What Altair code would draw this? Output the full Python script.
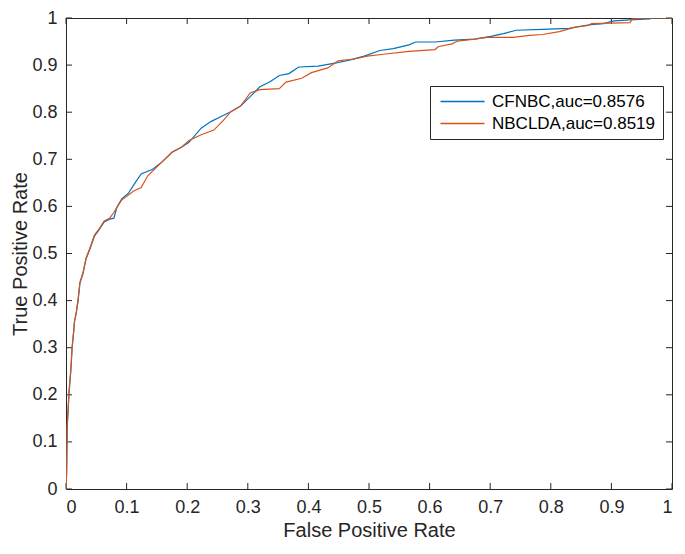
import altair as alt
import pandas as pd

series_names = ["CFNBC,auc=0.8576", "NBCLDA,auc=0.8519"]
series_colors = ["#0072BD", "#D95319"]

cfnbc_fpr = [0, 0.001, 0.002, 0.005, 0.008, 0.010, 0.013, 0.014, 0.017, 0.020, 0.023, 0.028,
             0.033, 0.039, 0.047, 0.055, 0.063, 0.072, 0.079, 0.084, 0.092, 0.103, 0.111, 0.124,
             0.143, 0.159, 0.175, 0.191, 0.203, 0.223, 0.239, 0.256, 0.272, 0.288, 0.304, 0.320,
             0.336, 0.352, 0.368, 0.384, 0.416, 0.444, 0.469, 0.492, 0.518, 0.540, 0.566, 0.577,
             0.609, 0.641, 0.674, 0.701, 0.722, 0.743, 0.786, 0.830, 0.846, 0.866, 0.887, 0.904,
             0.931, 0.963, 0.968, 1.0]
cfnbc_tpr = [0, 0.035, 0.130, 0.203, 0.252, 0.299, 0.339, 0.356, 0.374, 0.400, 0.437, 0.457,
             0.488, 0.508, 0.537, 0.551, 0.567, 0.573, 0.575, 0.598, 0.616, 0.628, 0.644, 0.669,
             0.679, 0.695, 0.715, 0.726, 0.736, 0.766, 0.780, 0.791, 0.801, 0.813, 0.833, 0.854,
             0.864, 0.878, 0.882, 0.896, 0.898, 0.904, 0.911, 0.919, 0.931, 0.935, 0.943, 0.949,
             0.949, 0.953, 0.955, 0.961, 0.967, 0.974, 0.976, 0.978, 0.982, 0.986, 0.988, 0.994,
             0.996, 0.998, 1.0, 1.0]

nbclda_fpr = [0, 0.001, 0.002, 0.005, 0.008, 0.010, 0.013, 0.014, 0.017, 0.020, 0.023, 0.028,
              0.033, 0.039, 0.047, 0.055, 0.063, 0.072, 0.079, 0.084, 0.092, 0.103, 0.111, 0.124,
              0.135, 0.159, 0.175, 0.191, 0.203, 0.223, 0.244, 0.260, 0.272, 0.288, 0.304, 0.320,
              0.352, 0.363, 0.389, 0.405, 0.432, 0.449, 0.476, 0.497, 0.524, 0.566, 0.609, 0.614,
              0.637, 0.646, 0.674, 0.695, 0.738, 0.765, 0.786, 0.814, 0.839, 0.862, 0.867, 0.931,
              0.934, 0.963, 1.0]
nbclda_tpr = [0, 0.035, 0.136, 0.207, 0.254, 0.299, 0.339, 0.356, 0.376, 0.404, 0.439, 0.459,
              0.490, 0.510, 0.539, 0.553, 0.569, 0.575, 0.587, 0.598, 0.614, 0.624, 0.632, 0.640,
              0.665, 0.695, 0.715, 0.726, 0.740, 0.752, 0.762, 0.783, 0.801, 0.813, 0.841, 0.848,
              0.850, 0.864, 0.872, 0.884, 0.894, 0.909, 0.913, 0.919, 0.923, 0.929, 0.933, 0.939,
              0.945, 0.951, 0.955, 0.959, 0.959, 0.963, 0.965, 0.971, 0.980, 0.984, 0.988, 0.990,
              0.998, 1.0, 1.0]

tick_values = [0, 0.1, 0.2, 0.3, 0.4, 0.5, 0.6, 0.7, 0.8, 0.9, 1]

W, H = 606, 471
TICK = 6
INK = "#262626"
FONT = "Liberation Sans"
X_TITLE = "False Positive Rate"
Y_TITLE = "True Positive Rate"

rows = []
for name, xs, ys in [(series_names[0], cfnbc_fpr, cfnbc_tpr), (series_names[1], nbclda_fpr, nbclda_tpr)]:
    for i, (a, b) in enumerate(zip(xs, ys)):
        rows.append({"series": name, "fpr": a, "tpr": b, "idx": i})
df = pd.DataFrame(rows)
tick_df = pd.DataFrame({"fpr": tick_values, "tpr": tick_values})

xs_ = alt.Scale(domain=[0, 1], nice=False, zero=False)
ys_ = alt.Scale(domain=[0, 1], nice=False, zero=False)
x_axis = alt.Axis(values=tick_values, format="~g", labelPadding=9, titlePadding=4)
y_axis = alt.Axis(values=tick_values, format="~g", labelPadding=9, titlePadding=1)

X = lambda: alt.X("fpr:Q", scale=xs_, title=X_TITLE, axis=x_axis)
Y = lambda: alt.Y("tpr:Q", scale=ys_, title=Y_TITLE, axis=y_axis)

lines = alt.Chart(df).mark_line(strokeWidth=1.2, clip=True).encode(
    x=X(),
    y=Y(),
    color=alt.Color("series:N", sort=series_names,
                    scale=alt.Scale(domain=series_names, range=series_colors),
                    legend=alt.Legend(orient="none", legendX=364, legendY=68, title=None,
                                      symbolType="M-1,0H7.8", symbolSize=100, symbolStrokeWidth=1.5,
                                      labelFont=FONT, labelFontSize=17, labelColor="#000000",
                                      labelLimit=0, padding=7, rowPadding=4, labelOffset=38,
                                      strokeColor=INK, fillColor="white")),
    order=alt.Order("idx:Q"),
)

rule_style = dict(color=INK, strokeWidth=1)
xt_bottom = alt.Chart(tick_df).mark_rule(**rule_style).encode(
    x=X(), y=alt.value(H), y2=alt.value(H - TICK))
xt_top = alt.Chart(tick_df).mark_rule(**rule_style).encode(
    x=X(), y=alt.value(0), y2=alt.value(TICK))
yt_left = alt.Chart(tick_df).mark_rule(**rule_style).encode(
    y=Y(), x=alt.value(0), x2=alt.value(TICK))
yt_right = alt.Chart(tick_df).mark_rule(**rule_style).encode(
    y=Y(), x=alt.value(W - TICK), x2=alt.value(W))

chart = alt.layer(xt_bottom, xt_top, yt_left, yt_right, lines).properties(
    width=W, height=H,
    autosize=alt.AutoSizeParams(type="none"),
    padding={"left": 58, "top": 10, "right": 4, "bottom": 51},
    background="white",
).configure_view(stroke=INK, strokeWidth=1).configure_axis(
    domain=False, ticks=False, tickSize=0, grid=False,
    labelFont=FONT, labelFontSize=18, labelColor=INK,
    titleFont=FONT, titleFontSize=20, titleFontWeight="normal", titleColor=INK,
)

chart.save("out.html", embed_options={"renderer": "svg", "actions": False})
